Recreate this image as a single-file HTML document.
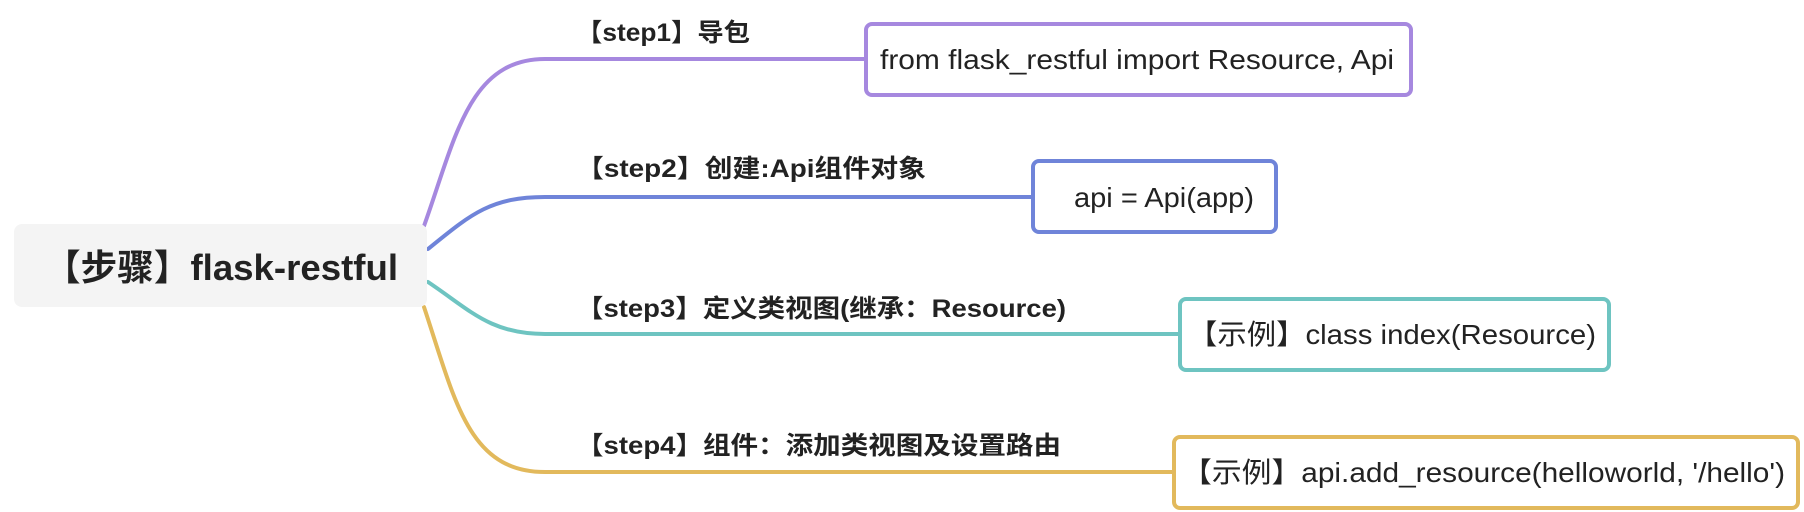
<!DOCTYPE html>
<html><head><meta charset="utf-8"><style>
html,body{margin:0;padding:0;background:#fff;}
svg{display:block;}
text{font-family:"Liberation Sans","Noto Sans CJK SC",sans-serif;fill:#222;}
</style></head><body>
<svg width="1804" height="512" viewBox="0 0 1804 512" xmlns="http://www.w3.org/2000/svg">
<g fill="none" stroke-width="4" stroke-linecap="round">
<path d="M424 226 C 455 140, 468 59, 545 59 L 866 59" stroke="#a688df"/>
<path d="M428 249 C 470 215, 490 197, 545 197 L 1033 197" stroke="#6f84d9"/>
<path d="M428 282 C 470 310, 490 334, 545 334 L 1180 334" stroke="#6ec4c1"/>
<path d="M424 307 C 455 400, 468 472, 545 472 L 1174 472" stroke="#e2b95c"/>
</g>
<rect x="14" y="224" width="413" height="83" rx="8" fill="#f4f4f4"/>
<text x="44" y="280" font-size="36" font-weight="bold" textLength="354" lengthAdjust="spacingAndGlyphs">【步骤】flask-restful</text>
<text x="576" y="41" font-size="25" font-weight="bold" textLength="174" lengthAdjust="spacingAndGlyphs">【step1】导包</text>
<text x="576" y="177" font-size="25" font-weight="bold" textLength="350" lengthAdjust="spacingAndGlyphs">【step2】创建:Api组件对象</text>
<text x="576" y="317" font-size="25" font-weight="bold" textLength="490" lengthAdjust="spacingAndGlyphs">【step3】定义类视图(继承：Resource)</text>
<text x="576" y="454" font-size="25" font-weight="bold" textLength="485" lengthAdjust="spacingAndGlyphs">【step4】组件：添加类视图及设置路由</text>
<g fill="#fff" stroke-width="4">
<rect x="866" y="24" width="545" height="71" rx="6" stroke="#a688df"/>
<rect x="1033" y="161" width="243" height="71" rx="6" stroke="#6f84d9"/>
<rect x="1180" y="299" width="429" height="71" rx="6" stroke="#6ec4c1"/>
<rect x="1174" y="437" width="624" height="71" rx="6" stroke="#e2b95c"/>
</g>
<text x="880" y="69" font-size="28" textLength="514" lengthAdjust="spacingAndGlyphs">from flask_restful import Resource, Api</text>
<text x="1074" y="207" font-size="28" textLength="180" lengthAdjust="spacingAndGlyphs">api = Api(app)</text>
<text x="1188" y="344" font-size="28" textLength="408" lengthAdjust="spacingAndGlyphs">【示例】class index(Resource)</text>
<text x="1182" y="482" font-size="28" textLength="603" lengthAdjust="spacingAndGlyphs">【示例】api.add_resource(helloworld, '/hello')</text>
</svg>
</body></html>
